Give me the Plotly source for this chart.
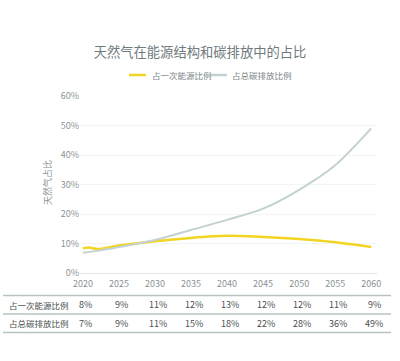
import plotly.graph_objects as go

years = [2020, 2025, 2030, 2035, 2040, 2045, 2050, 2055, 2060]
# line data
energy_years = [2020, 2021, 2022, 2025, 2030, 2035, 2040, 2045, 2050, 2055, 2060]
energy_share = [8.4, 8.6, 8.1, 9.3, 10.8, 11.9, 12.6, 12.2, 11.5, 10.4, 8.8]
carbon_years = [2020, 2022, 2025, 2030, 2035, 2040, 2045, 2050, 2055, 2060]
carbon_share = [6.9, 7.5, 8.8, 11.2, 14.6, 18.0, 21.8, 28.2, 36.5, 49.0]
# table rows
row_labels = ["占一次能源比例", "占总碳排放比例"]
energy_table = ["8%", "9%", "11%", "12%", "13%", "12%", "12%", "11%", "9%"]
carbon_table = ["7%", "9%", "11%", "15%", "18%", "22%", "28%", "36%", "49%"]
series_names = ["占一次能源比例", "占总碳排放比例"]
series_colors = ["#f2d422", "#c3d1d1"]

FONT = "Noto Sans CJK SC, Noto Sans, sans-serif"
W, H = 400, 361
L, R, T, B = 80, 23, 96, 88
PW, PH = W - L - R, H - T - B

def xpaper(px):
    return (px - L) / PW

def ypaper(py):
    return (H - B - py) / PH

fig = go.Figure()
fig.add_trace(go.Scatter(x=energy_years, y=energy_share, mode="lines", name=series_names[0],
                         line=dict(color=series_colors[0], width=2.5, shape="spline", smoothing=0.8)))
fig.add_trace(go.Scatter(x=carbon_years, y=carbon_share, mode="lines", name=series_names[1],
                         line=dict(color=series_colors[1], width=2, shape="spline", smoothing=0.8)))

fig.update_layout(
    width=W, height=H,
    margin=dict(l=L, r=R, t=T, b=B, autoexpand=False),
    paper_bgcolor="white", plot_bgcolor="white",
    font=dict(family=FONT, color="#8a9394", size=9),
    title=dict(text="天然气在能源结构和碳排放中的占比", x=0.5, xanchor="center",
               y=1 - 52 / H, yanchor="middle",
               font=dict(size=13.3, color="#6f7b7d", family=FONT)),
    showlegend=False,
)
fig.update_xaxes(range=[2019.6, 2060.8], tickvals=years, ticktext=[str(y) for y in years],
                 showgrid=False, zeroline=False, showline=False, ticks="", automargin=False,
                 ticklabelstandoff=4,
                 tickfont=dict(size=9, color="#8a9394"))
fig.update_yaxes(range=[0, 60], tickvals=[0, 10, 20, 30, 40, 50, 60],
                 ticktext=["0%", "10%", "20%", "30%", "40%", "50%", "60%"],
                 showgrid=True, gridcolor="#f3f5f5", gridwidth=1, automargin=False,
                 zeroline=True, zerolinecolor="#dfe5e5", zerolinewidth=1,
                 ticks="", tickfont=dict(size=9, color="#8a9394"))

# custom legend
for (x0, x1, tx), name, col in zip([(129, 146, 150), (211, 227, 230)], series_names, series_colors):
    fig.add_shape(type="line", xref="paper", yref="paper", x0=xpaper(x0), x1=xpaper(x1),
                  y0=ypaper(75), y1=ypaper(75), line=dict(color=col, width=2.5))
    fig.add_annotation(text=name, xref="paper", yref="paper", x=xpaper(tx), xanchor="left",
                       y=ypaper(75), yanchor="middle", showarrow=False,
                       font=dict(size=8.5, color="#7a8587", family=FONT))

# y axis title
fig.add_annotation(text="天然气占比", xref="paper", yref="paper", x=xpaper(47), xanchor="center",
                   y=ypaper(183), yanchor="middle", textangle=-90, showarrow=False,
                   font=dict(size=9, color="#8a9394", family=FONT))

# table lines
for py in [295.5, 314, 332.5]:
    fig.add_shape(type="line", xref="paper", yref="paper",
                  x0=xpaper(3), x1=xpaper(391),
                  y0=ypaper(py), y1=ypaper(py), line=dict(color="#b9c2c2", width=1.5))

for label, vals, py in [(row_labels[0], energy_table, 304.5), (row_labels[1], carbon_table, 323)]:
    fig.add_annotation(text=label, xref="paper", yref="paper", x=xpaper(7),
                       xanchor="left", y=ypaper(py), yanchor="middle", showarrow=False,
                       font=dict(size=8.5, color="#4a4f50", family=FONT))
    for yr, v in zip(years, vals):
        fig.add_annotation(text=v, xref="x", yref="paper", x=yr, xshift=3,
                           y=ypaper(py), yanchor="middle", showarrow=False,
                           font=dict(size=9, color="#4a4f50", family=FONT))

fig.write_html("out.html", config={"displayModeBar": False},
               post_script="document.body.style.margin='0';")
